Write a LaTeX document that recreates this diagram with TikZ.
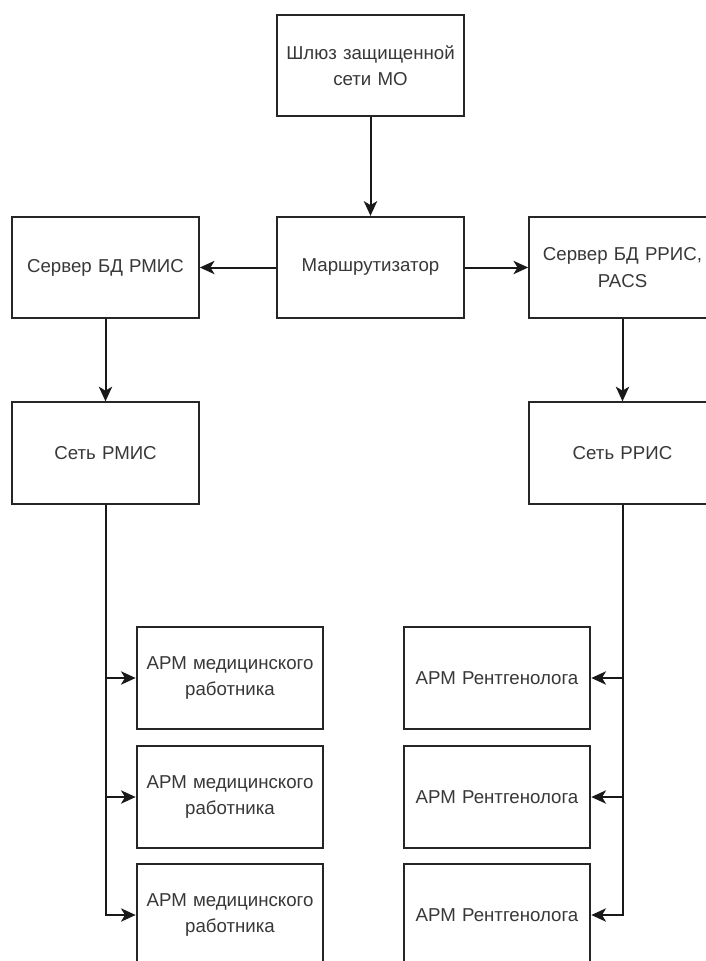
\documentclass[tikz,border=0pt]{standalone}
\usepackage{fontspec}
\setmainfont{Liberation Sans}
\usetikzlibrary{arrows.meta}
\begin{document}
\begin{tikzpicture}[x=0.75pt,y=-0.75pt,
  box/.style={draw=black!85, line width=1.5pt, fill=white, inner sep=2pt,
    minimum width=140pt, minimum height=76pt, text width=132pt, align=center,
    font=\fontsize{14}{20}\selectfont, text=black!78},
  link/.style={draw=black!90, line width=1.5pt,
    -{Stealth[length=11pt,width=10pt,inset=3pt]}}]
  \useasboundingbox (0,0) rectangle (706,961);
  \clip (0,0) rectangle (706,961);
  \fill[white] (0,0) rectangle (706,961);

  % upper part: gateway, router and the two servers
  \node[box] (gw)   at (370.5,65.5)  {Шлюз защищенной\\сети МО};
  \node[box] (rt)   at (370.5,267.5) {Маршрутизатор};
  \node[box] (srvL) at (105.5,267.5) {Сервер БД РМИС};
  \node[box] (srvR) at (622.5,267.5) {Сервер БД РРИС,\\PACS};

  % networks
  \node[box] (netL) at (105.5,453) {Сеть РМИС};
  \node[box] (netR) at (622.5,453) {Сеть РРИС};

  % workstations
  \node[box] (aL1) at (230,678) {АРМ медицинского\\работника};
  \node[box] (aL2) at (230,797) {АРМ медицинского\\работника};
  \node[box] (aL3) at (230,915) {АРМ медицинского\\работника};
  \node[box] (aR1) at (497,678) {АРМ Рентгенолога};
  \node[box] (aR2) at (497,797) {АРМ Рентгенолога};
  \node[box] (aR3) at (497,915) {АРМ Рентгенолога};

  % connections
  \draw[link] (gw) -- (rt);
  \draw[link] (rt) -- (srvL);
  \draw[link] (rt) -- (srvR);
  \draw[link] (srvL) -- (netL);
  \draw[link] (srvR) -- (netR);
  \foreach \n in {aL1,aL2,aL3} \draw[link] (netL.south) |- (\n.west);
  \foreach \n in {aR1,aR2,aR3} \draw[link] (netR.south) |- (\n.east);
\end{tikzpicture}
\end{document}
